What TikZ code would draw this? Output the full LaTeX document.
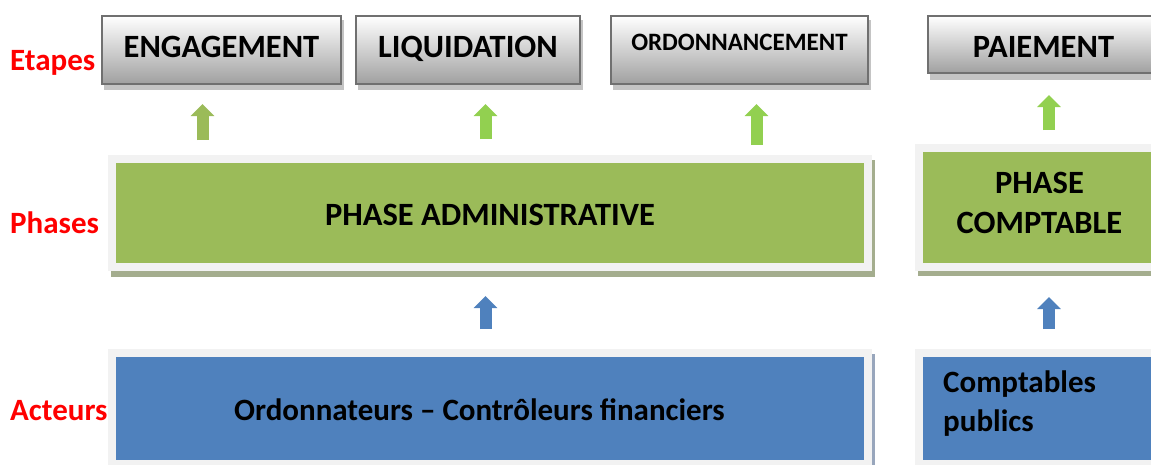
\documentclass[tikz,border=0pt]{standalone}
\usepackage{fontspec}
\setmainfont{Carlito}
\usetikzlibrary{arrows.meta,calc}
\definecolor{vert}{HTML}{9BBB59}
\definecolor{vertclair}{HTML}{92D050}
\definecolor{bleu}{HTML}{4F81BD}
\definecolor{cadre}{HTML}{F2F2F2}
\definecolor{ombrevert}{HTML}{A4AD8E}
\definecolor{ombrebleu}{HTML}{98A6BC}
\definecolor{ombregris}{HTML}{C4C4C4}
\definecolor{bordgris}{HTML}{707070}
\definecolor{grisbas}{HTML}{A0A0A0}
\tikzset{
	etiq/.style={text=red, font=\fontsize{31}{38}\selectfont\bfseries, anchor=base west, inner sep=0pt},
	etape/.style={draw=bordgris, line width=2pt, top color=white, bottom color=grisbas, inner sep=0pt, font=\fontsize{32.5}{38}\selectfont\bfseries},
	bande/.style={draw=cadre, line width=8pt, inner sep=0pt, font=\fontsize{32.5}{40}\selectfont\bfseries, align=center},
	texte/.style={inner sep=0pt, font=\fontsize{31}{39}\selectfont\bfseries},
	fleche/.style={line width=12pt, -{Triangle[width=23pt,length=12pt]}},
}

\begin{document}
\begin{tikzpicture}[x=1pt, y=-1pt]
		%%%%% START %%%%%
		\path[use as bounding box, clip] (0, 0) rectangle (1151, 464);
		
		% ombres
		\fill[ombregris] (104, 20) rectangle (344, 90);
		\fill[ombregris] (358, 20) rectangle (583, 90);
		\fill[ombregris] (613, 20) rectangle (871, 90);
		\fill[ombregris] (930, 20) rectangle (1165, 80);
		\fill[ombrevert] (111, 160) rectangle (875, 277);
		\fill[ombrevert] (918, 150) rectangle (1170, 276);
		\fill[ombrebleu] (111, 354) rectangle (875, 470);
		
		% etapes
		\node[etape, minimum width=239pt, minimum height=68pt, text depth=7pt] (eng) at (221.5, 50) {ENGAGEMENT};
		\node[etape, minimum width=224pt, minimum height=68pt, text depth=7pt] (liq) at (468, 50) {LIQUIDATION};
		\node[etape, minimum width=257pt, minimum height=68pt, text depth=16pt, font=\fontsize{25}{30}\selectfont\bfseries] (ord) at (739.5, 50) {ORDONNANCEMENT};
		\node[etape, minimum width=231pt, minimum height=57pt, text height=26pt] (paie) at (1043.5, 44.5) {PAIEMENT};
		
		% phases
		\node[bande, fill=vert, minimum width=756pt, minimum height=108pt, text height=26pt] (phadm) at (490, 213) {PHASE ADMINISTRATIVE};
		\node[bande, fill=vert, minimum width=241pt, minimum height=119pt, text depth=9pt] (phcpt) at (1039.5, 207.5) {PHASE\\COMPTABLE};
		
		% acteurs
		\node[bande, fill=bleu, minimum width=756pt, minimum height=111pt] (ordfin) at (490, 408.5) {};
		\node[bande, fill=bleu, minimum width=241pt, minimum height=111pt] (cptpub) at (1039.5, 408.5) {};
		\node[texte, anchor=base] (ordtxt) at (479.5, 420) {Ordonnateurs – Contrôleurs financiers};
		\node[texte, anchor=west, align=left] (cpttxt) at (943, 404) {Comptables\\publics};
		
		% libelles
		\node[etiq] (etapes) at (10, 70) {Etapes};
		\node[etiq] (phases) at (10, 233) {Phases};
		\node[etiq] (acteurs) at (10, 420) {Acteurs};
		
		% fleches
		\coordinate (f1) at (202.5, 0);
		\coordinate (f2) at (485.5, 0);
		\coordinate (f3) at (756.5, 0);
		\coordinate (f4) at (1049, 0);
		\draw[fleche, vert] ([yshift=15pt]phadm.north -| f1) -- ([yshift=-19pt]eng.south -| f1);
		\draw[fleche, vertclair] ([yshift=16pt]phadm.north -| f2) -- ([yshift=-19pt]liq.south -| f2);
		\draw[fleche, vertclair] ([yshift=10pt]phadm.north -| f3) -- ([yshift=-19pt]ord.south -| f3);
		\draw[fleche, vertclair] ([yshift=14pt]phcpt.north -| f4) -- ([yshift=-21pt]paie.south -| f4);
		\draw[fleche, bleu] ([yshift=20pt]ordfin.north -| f2) -- ([yshift=-25pt]phadm.south -| f2);
		\draw[fleche, bleu] ([yshift=20pt]cptpub.north -| f4) -- ([yshift=-26pt]phcpt.south -| f4);
		
		%%%%% END %%%%%
\end{tikzpicture}
\end{document}
